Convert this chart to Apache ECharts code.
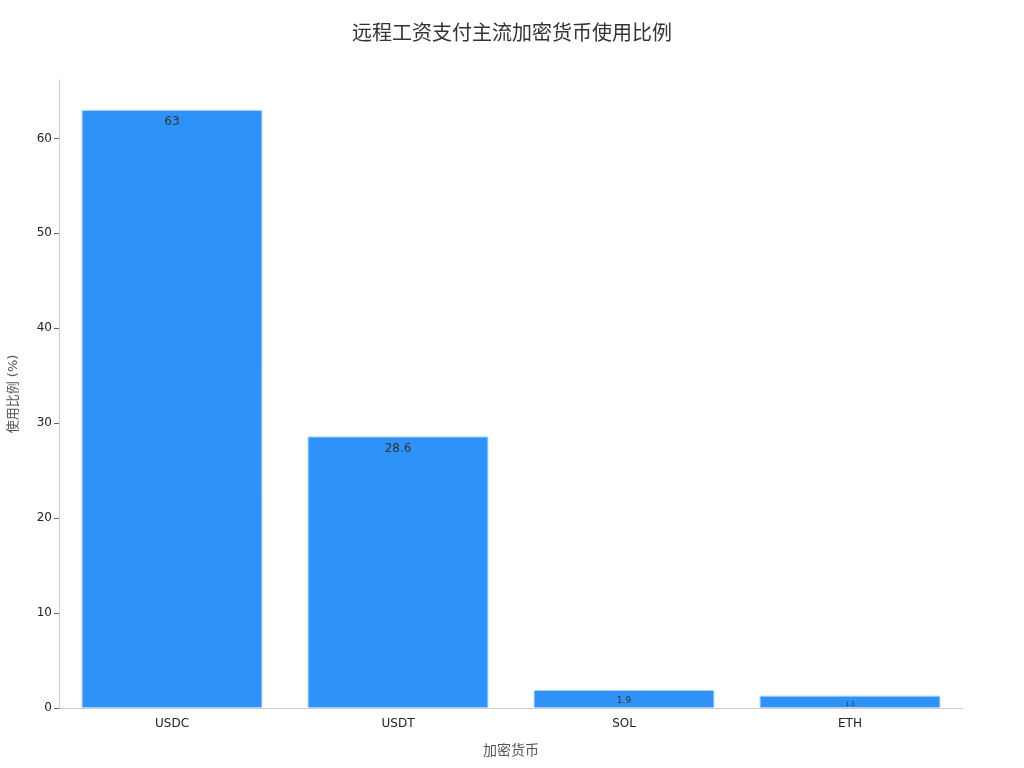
<!DOCTYPE html>
<html>
<head>
<meta charset="utf-8">
<script src="https://cdn.jsdelivr.net/npm/echarts@6/dist/echarts.min.js"></script>
<style>
html, body { margin: 0; padding: 0; background: #fff; }
#main { width: 1024px; height: 768px; }
</style>
</head>
<body>
<div id="main"></div>
<script>
var coins = ['USDC', 'USDT', 'SOL', 'ETH'];
var shares = [63, 28.6, 1.9, 1.3];
// label size shrinks with the bar in the reference
var labelSizes = [12, 12, 9, 6];

var fontStack = '"DejaVu Sans", "Noto Sans CJK SC", sans-serif';

var barData = shares.map(function (v, i) {
	return {
		value: v,
		label: { fontSize: labelSizes[i] }
	};
});

var grafico = {
	animation: false,
	textStyle: { fontFamily: fontStack },
	title: {
		text: '远程工资支付主流加密货币使用比例',
		left: 'center',
		top: 20,
		textStyle: {
			fontFamily: fontStack,
			fontSize: 20,
			fontWeight: 'normal',
			color: '#333'
		}
	},
	grid: {
		left: 59,
		right: 61,
		top: 80,
		bottom: 60,
		outerBoundsMode: 'none'
	},
	xAxis: {
		type: 'category',
		data: coins,
		name: '加密货币',
		nameLocation: 'middle',
		nameGap: 36,
		nameTextStyle: { fontSize: 14, color: '#555' },
		axisLine: { lineStyle: { color: '#ccc' } },
		axisTick: { alignWithLabel: true, length: 5, lineStyle: { color: '#777' } },
		axisLabel: { color: '#222', fontSize: 12, margin: 10 }
	},
	yAxis: {
		type: 'value',
		min: 0,
		max: 66.15,
		interval: 10,
		name: '使用比例 (%)',
		nameLocation: 'middle',
		nameGap: 39,
		nameTextStyle: { fontSize: 13, color: '#555' },
		splitLine: { show: false },
		axisLine: { show: true, lineStyle: { color: '#ccc' } },
		axisTick: { show: true, length: 5, lineStyle: { color: '#666' } },
		axisLabel: { color: '#222', fontSize: 12, margin: 7, showMaxLabel: false }
	},
	series: [{
		type: 'bar',
		data: barData,
		barWidth: '80%',
		itemStyle: {
			color: '#2f92f8',
			borderColor: '#a8d0fb',
			borderWidth: 1
		},
		label: {
			show: true,
			position: 'insideTop',
			distance: 6,
			color: '#333'
		}
	}]
};

var myChart = echarts.init(document.getElementById('main'));
myChart.setOption(grafico);
</script>
</body>
</html>
